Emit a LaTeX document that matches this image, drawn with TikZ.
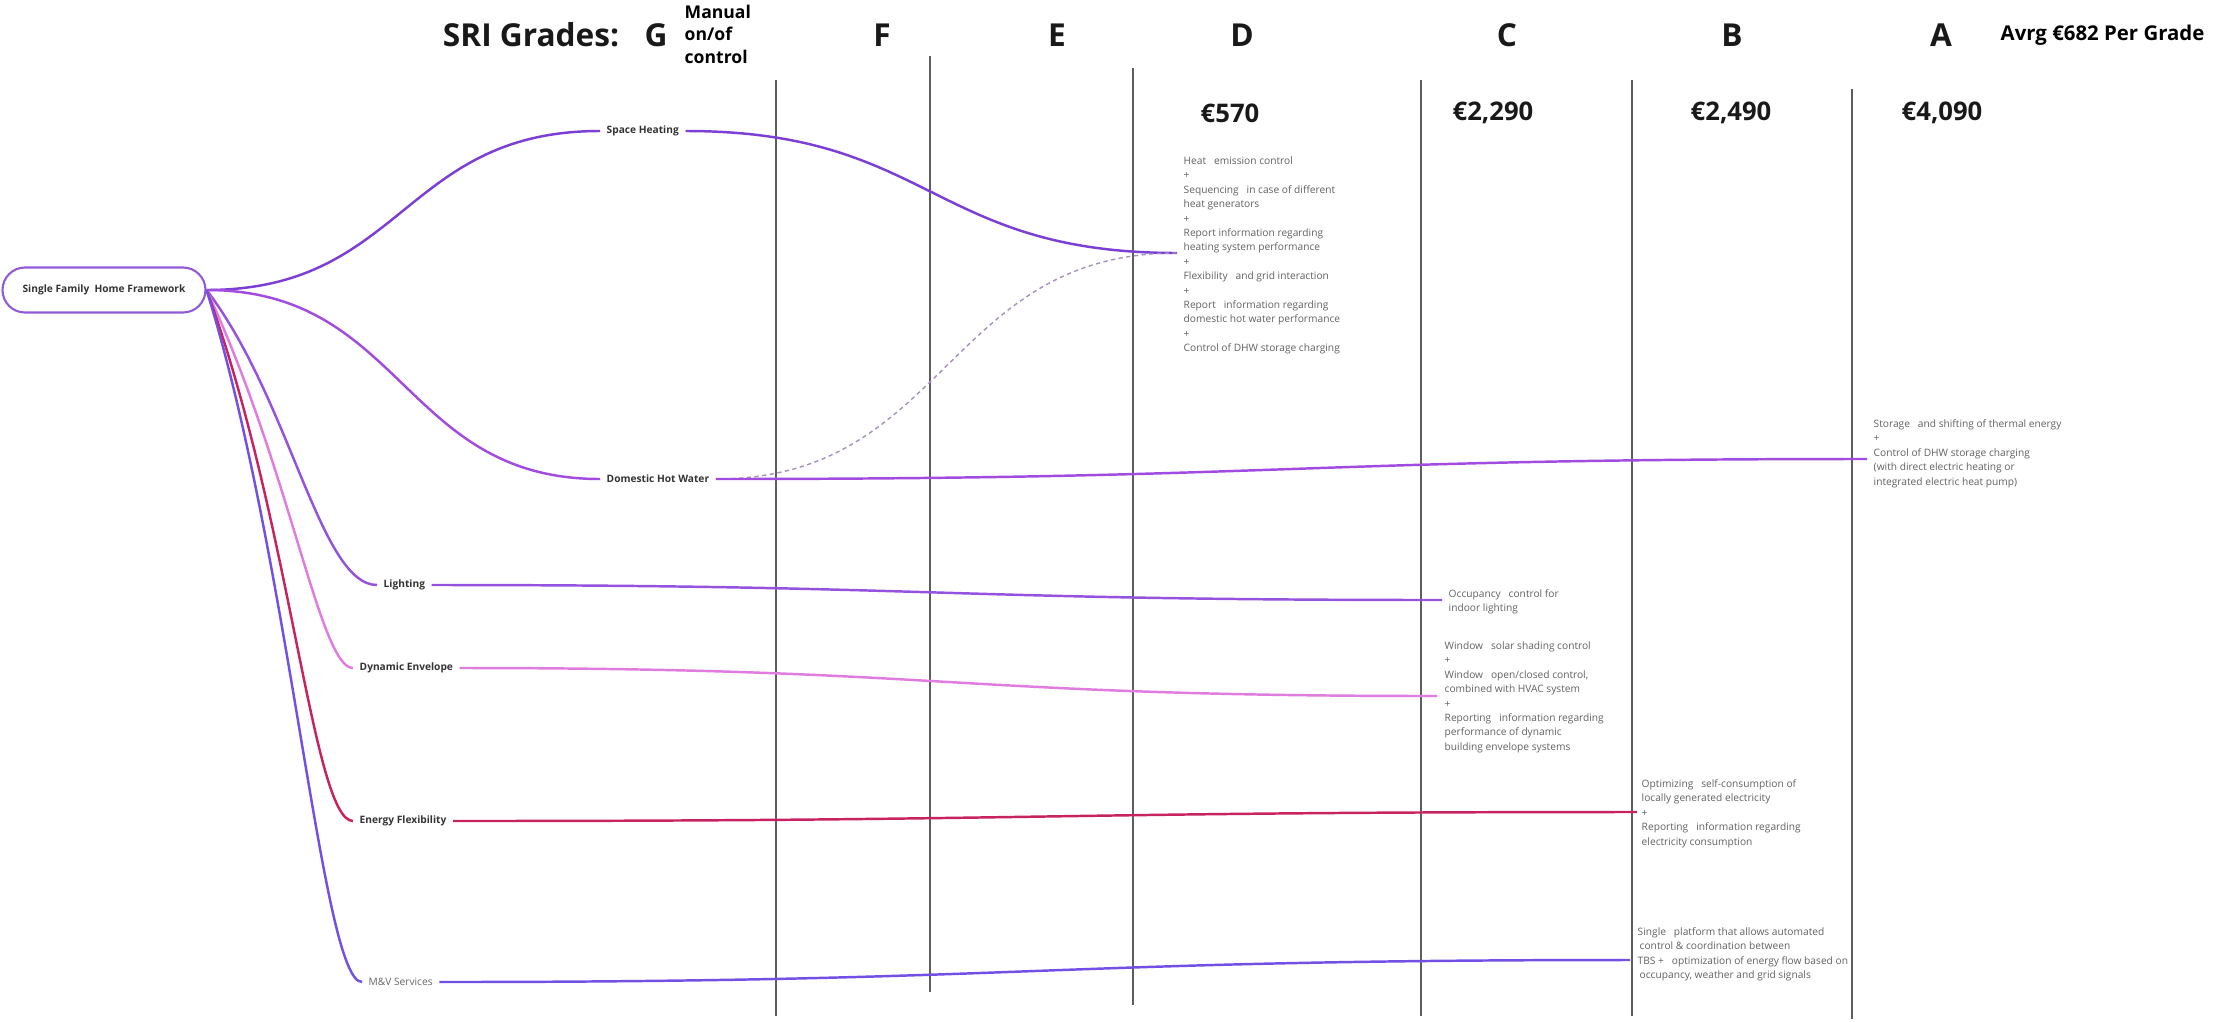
\documentclass[tikz,border=0pt]{standalone}
\usepackage{fontspec}
\setmainfont{Open Sans}
\usetikzlibrary{positioning}

\definecolor{rootcol}{HTML}{8F5BD9}
\definecolor{heatcol}{HTML}{7B3FD6}
\definecolor{dhwcol}{HTML}{A24BE0}
\definecolor{lightcol}{HTML}{9452DE}
\definecolor{envcol}{HTML}{E07BE0}
\definecolor{flexcol}{HTML}{C8235F}
\definecolor{mvcol}{HTML}{7250E6}
\definecolor{dashcol}{HTML}{A58FBF}
\definecolor{gridcol}{HTML}{5E5E5E}

\begin{document}
\begin{tikzpicture}[x=0.1mm, y=-0.1mm]
  % Define styles for headings, labels and notes
  \tikzstyle{grade} = [font=\fontsize{9}{11}\selectfont\bfseries, text=black!90, inner sep=0]
  \tikzstyle{cost} = [font=\fontsize{7.3}{9}\selectfont\bfseries, text=black!90, inner sep=0]
  \tikzstyle{branch} = [font=\fontsize{2.9}{3.5}\selectfont\bfseries, text=black!80, anchor=west, inner xsep=.6mm, inner ysep=0]
  \tikzstyle{note} = [font=\fontsize{2.9}{4.1}\selectfont, text=black!62, align=left, anchor=north west, inner sep=0]
  \tikzstyle{grid} = [gridcol, line width=.55pt]
  \tikzstyle{link} = [line width=.7pt]

  \useasboundingbox (0,0) rectangle (2213,1021);

  % Draw the grade columns
  \foreach \x/\ya/\yb in {776/80/1016, 930/56/992, 1133/68/1005, 1421/80/1016, 1632/80/1016, 1852/89/1019}
    \draw[grid] (\x,\ya) -- (\x,\yb);

  % Grade letters and costs
  \foreach \x/\g in {656/G, 882/F, 1057/E, 1242/D, 1507/C, 1732/B, 1941/A}
    \node[grade] (g\g) at (\x,35) {\g};
  \node[grade, left=2.4mm of gG] (sri) {SRI Grades:};
  \node[font=\fontsize{5}{6.5}\selectfont\bfseries, align=left, anchor=north west, inner sep=0] (manual) at (684,4) {Manual\\on/of\\control};
  \node[font=\fontsize{5.8}{7}\selectfont\bfseries, anchor=west, inner sep=0] (avrg) at (2000,35) {Avrg €682 Per Grade};
  \foreach \x/\g/\c in {1230/D/570, 1493/C/{2,290}, 1731/B/{2,490}, 1942/A/{4,090}}
    \node[cost] (cost\g) at (\x,113) {€\c};

  % Framework and its branches
  \node[draw=rootcol, line width=.6pt, rounded corners=2.25mm, minimum width=20.3mm, minimum height=4.5mm,
        font=\fontsize{2.9}{3.5}\selectfont\bfseries, text=black!80] (sfh) at (104,290) {Single Family~ Home Framework};
  \node[branch] (heat) at (600,131) {Space Heating};
  \node[branch] (dhw) at (600,479) {Domestic Hot Water};
  \node[branch] (light) at (377,585) {Lighting};
  \node[branch] (env) at (353,668) {Dynamic Envelope};
  \node[branch] (flex) at (353,821) {Energy Flexibility};
  \node[branch, font=\fontsize{2.9}{3.5}\selectfont, text=black!60] (mv) at (362,982) {M\&V Services};

  \draw[link, heatcol] (sfh.east) .. controls +(197,0) and +(-197,0) .. (heat.west);
  \draw[link, dhwcol] (sfh.east) .. controls +(197,0) and +(-197,0) .. (dhw.west);
  \draw[link, lightcol] (sfh.east) .. controls +(84,110) and +(-57,0) .. (light.west);
  \draw[link, envcol] (sfh.east) .. controls +(84,180) and +(-33,0) .. (env.west);
  \draw[link, flexcol] (sfh.east) .. controls +(84,230) and +(-40,0) .. (flex.west);
  \draw[link, mvcol] (sfh.east) .. controls +(84,270) and +(-40,0) .. (mv.west);

  % Measures per grade
  \node[note] (heatD) at (1183,156) {Heat~~ emission control\\+\\Sequencing~~ in case of different\\heat generators\\+\\Report information regarding\\heating system performance\\+\\Flexibility~~ and grid interaction\\+\\Report~~ information regarding\\domestic hot water performance\\+\\Control of DHW storage charging};
  \node[note] (dhwA) at (1873,419) {Storage~~ and shifting of thermal energy\\+\\Control of DHW storage charging\\(with direct electric heating or\\integrated electric heat pump)};
  \node[note] (lightC) at (1448,589) {Occupancy~~ control for\\indoor lighting};
  \node[note] (envC) at (1444,641) {Window~~ solar shading control\\+\\Window~~ open/closed control,\\combined with HVAC system\\+\\Reporting~~ information regarding\\performance of dynamic\\building envelope systems};
  \node[note] (flexB) at (1641,779) {Optimizing~~ self-consumption of\\locally generated electricity\\+\\Reporting~~ information regarding\\electricity consumption};
  \node[note] (mvB) at (1637,927) {Single~~ platform that allows automated\\\hspace*{.2mm}control \& coordination between\\TBS +~~ optimization of energy flow based on\\\hspace*{.2mm}occupancy, weather and grid signals};

  \coordinate (heatend) at (1177,253);
  \coordinate (dhwend) at (1867,459);
  \coordinate (lightend) at (1442,600);
  \coordinate (envend) at (1437,696);
  \coordinate (flexend) at (1637,812);
  \coordinate (mvend) at (1630,960);

  \draw[link, heatcol] (heat.east) .. controls +(246,0) and +(-246,0) .. (heatend);
  \draw[dashcol, line width=.4pt, dash pattern=on 1.2pt off 1pt] (dhw.east) .. controls +(231,0) and +(-231,0) .. (heatend);
  \draw[link, dhwcol] (dhw.east) .. controls +(576,0) and +(-576,0) .. (dhwend);
  \draw[link, lightcol] (light.east) .. controls +(505,0) and +(-505,0) .. (lightend);
  \draw[link, envcol] (env.east) .. controls +(490,0) and +(-490,0) .. (envend);
  \draw[link, flexcol] (flex.east) .. controls +(592,0) and +(-592,0) .. (flexend);
  \draw[link, mvcol] (mv.east) .. controls +(596,0) and +(-596,0) .. (mvend);
\end{tikzpicture}
\end{document}
